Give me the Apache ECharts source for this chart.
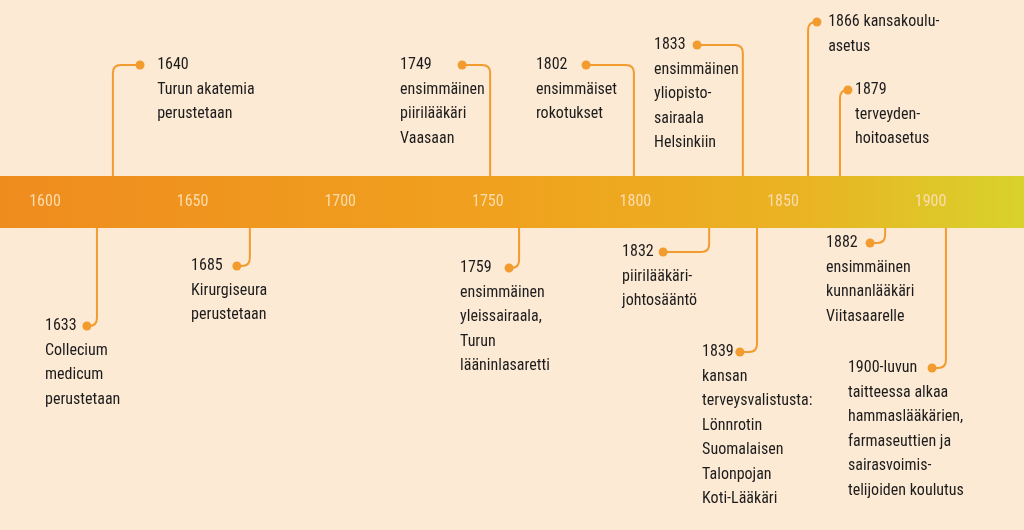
<!DOCTYPE html>
<html><head><meta charset="utf-8">
<script src="https://cdn.jsdelivr.net/npm/echarts@6/dist/echarts.min.js"></script>
<style>html,body{margin:0;padding:0;background:#fdead5}#c{width:1024px;height:530px}</style>
</head><body><div id="c"></div>
<script>
const tickYears = [1600,1650,1700,1750,1800,1850,1900];
const texts = [
 "1640\nTurun akatemia\nperustetaan",
 "1633\nCollecium\nmedicum\nperustetaan",
 "1685\nKirurgiseura\nperustetaan",
 "1749\nensimmäinen\npiirilääkäri\nVaasaan",
 "1759\nensimmäinen\nyleissairaala,\nTurun\nlääninlasaretti",
 "1802\nensimmäiset\nrokotukset",
 "1833\nensimmäinen\nyliopisto-\nsairaala\nHelsinkiin",
 "1832\npiirilääkäri-\njohtosääntö",
 "1839\nkansan\nterveysvalistusta:\nLönnrotin\nSuomalaisen\nTalonpojan\nKoti-Lääkäri",
 "1866 kansakoulu-\nasetus",
 "1879\nterveyden-\nhoitoasetus",
 "1882\nensimmäinen\nkunnanlääkäri\nViitasaarelle",
 "1900-luvun\ntaitteessa alkaa\nhammaslääkärien,\nfarmaseuttien ja\nsairasvoimis-\ntelijoiden koulutus"
];
const stemX = [1623.0,1617.6,1669.4,1750.8,1760.6,1799.5,1836.4,1825.0,1841.2,1858.5,1869.3,1884.6,1905.2];
const dotX  = [1632.2,1614.2,1665.0,1741.3,1757.2,1783.3,1820.9,1809.4,1835.4,1861.5,1872.0,1879.5,1900.5];
const textX = [1638.0,1600.0,1649.5,1720.3,1740.6,1766.3,1806.3,1795.5,1822.6,1865.3,1874.4,1864.6,1872.0];
const endY  = [65,326,266,65,268,65,45,252,352,22,90,243,368];
const bandTop = 176, bandBottom = 228;
const FONT = '"Liberation Sans Narrow","Roboto Condensed","Noto Sans",sans-serif';
const LINE = '#f29b2f';

const chart = echarts.init(document.getElementById('c'));
const evData = texts.map((t,i)=>[stemX[i],endY[i],dotX[i],textX[i],i]);
chart.setOption({
 backgroundColor:'#fdead5',
 animation:false,
 grid:{left:0,right:0,top:0,bottom:0},
 xAxis:{type:'value',min:1584.76,max:1584.76+1024/2.952,show:false},
 yAxis:{type:'value',min:0,max:530,inverse:true,show:false},
 series:[
  {type:'custom',data:[[0]],renderItem:function(p,api){
    const a=api.coord([1584.76,bandTop]), b=api.coord([1584.76+1024/2.952,bandBottom]);
    const children=[{type:'rect',shape:{x:a[0],y:a[1],width:b[0]-a[0],height:b[1]-a[1]},
      style:{fill:new echarts.graphic.LinearGradient(0,0,1,0,[{offset:0,color:'#ef8c1e'},{offset:0.5,color:'#f0a21e'},{offset:0.78,color:'#eab323'},{offset:1,color:'#d8d22c'}])}}];
    tickYears.forEach(y=>{const c=api.coord([y,(bandTop+bandBottom)/2]);
      children.push({type:'text',x:c[0],y:c[1],style:{text:String(y),fill:'#fbdcae',font:'16px '+FONT,align:'center',verticalAlign:'middle'}});});
    return {type:'group',children};
  }},
  {type:'custom',data:evData,renderItem:function(p,api){
    const sx=api.value(0), ey=api.value(1), dx=api.value(2), tx=api.value(3), i=api.value(4);
    const up = ey<bandTop;
    const s=api.coord([sx, up?bandTop:bandBottom]);
    const e=api.coord([sx, ey]);
    const d=api.coord([dx, ey]);
    const t=api.coord([tx, ey]);
    const r=8, dir = d[0]<e[0]?-1:1, vdir = up?1:-1;
    const path='M'+s[0]+' '+s[1]+' L'+e[0]+' '+(e[1]+vdir*r)+' Q'+e[0]+' '+e[1]+' '+(e[0]+dir*r)+' '+e[1]+' L'+d[0]+' '+d[1];
    return {type:'group',children:[
      {type:'path',shape:{pathData:path},style:{stroke:LINE,lineWidth:2,fill:null}},
      {type:'circle',shape:{cx:d[0],cy:d[1],r:4.5},style:{fill:LINE}},
      {type:'text',x:t[0],y:t[1]-12,style:{text:texts[i],fill:'#1c1c1c',font:'16px '+FONT,lineHeight:24.5,align:'left',verticalAlign:'top'}}
    ]};
  }}
 ]
});
</script></body></html>
